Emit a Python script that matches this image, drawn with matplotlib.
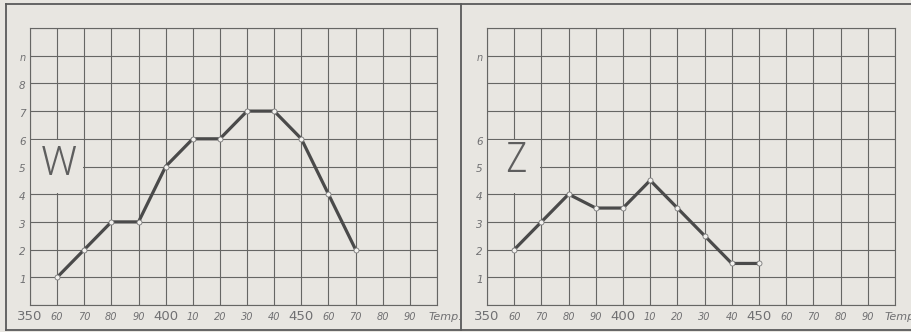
import matplotlib
matplotlib.use("Agg")
import matplotlib.pyplot as plt
from matplotlib.patches import Rectangle
from matplotlib.lines import Line2D

# ---- data -------------------------------------------------------------
temp_w = [360, 370, 380, 390, 400, 410, 420, 430, 440, 450, 460, 470]
n_w = [1, 2, 3, 3, 5, 6, 6, 7, 7, 6, 4, 2]

temp_z = [360, 370, 380, 390, 400, 410, 420, 430, 440, 450]
n_z = [2, 3, 4, 3.5, 3.5, 4.5, 3.5, 2.5, 1.5, 1.5]

x_ticks = [350, 360, 370, 380, 390, 400, 410, 420, 430, 440,
           450, 460, 470, 480, 490]
x_labels = ["350", "60", "70", "80", "90", "400", "10", "20", "30", "40",
            "450", "60", "70", "80", "90"]
x_major = ["350", "400", "450"]

y_ticks_w = [1, 2, 3, 4, 5, 6, 7, 8, 9]
y_labels_w = ["1", "2", "3", "4", "5", "6", "7", "8", "n"]
y_ticks_z = [1, 2, 3, 4, 5, 6, 9]
y_labels_z = ["1", "2", "3", "4", "5", "6", "n"]

# ---- style ------------------------------------------------------------
W, H = 911, 332
BG = "#e8e6e1"
GRID = "#666664"
INK = "#4a4a4a"
LABEL = "#707072"

fig = plt.figure(figsize=(W / 100, H / 100), dpi=100, facecolor=BG)


def px_axes(x0, x1, y_top, y_bot):
    return fig.add_axes([x0 / W, 1 - y_bot / H, (x1 - x0) / W, (y_bot - y_top) / H])


def draw_panel(ax, xs, ys, yt, yl, letter_kw, temp_x):
    ax.set_facecolor(BG)
    ax.set_xlim(350, 500)
    ax.set_ylim(0, 10)
    ax.set_xticks(range(350, 501, 10))
    ax.set_yticks(range(0, 11))
    ax.tick_params(length=0, labelbottom=False, labelleft=False)
    ax.set_axisbelow(True)
    ax.grid(True, color=GRID, lw=0.8)
    for s in ax.spines.values():
        s.set_color(GRID)
        s.set_linewidth(0.8)

    # blank field holding the sample letter
    ax.add_patch(Rectangle((350.5, 4.04), 19.0, 1.92, facecolor=BG,
                           edgecolor="none", zorder=1))
    ax.text(**letter_kw, color="#5e5e5e", zorder=2, ha="center",
            va="center")

    ax.plot(xs, ys, color=INK, lw=2.3, zorder=3, solid_joinstyle="round")
    ax.plot(xs, ys, ls="none", marker="o", ms=3.6, mfc="#f2f1ee",
            mec="#7a7a7a", mew=0.6, zorder=4)

    for t, lab in zip(x_ticks, x_labels):
        big = lab in x_major
        ax.text(t, -0.42, lab, ha="center", va="center", color=LABEL,
                fontsize=9.5 if big else 7, style="normal" if big else "italic",
                clip_on=False)
    ax.text(temp_x, -0.42, "Temp.", ha="left", va="center", color=LABEL,
            fontsize=8, style="italic", clip_on=False)

    for t, lab in zip(yt, yl):
        ax.text(348.4, t - 0.1, lab, ha="right", va="center", color=LABEL,
                fontsize=7.5 if lab != "n" else 7, style="italic",
                clip_on=False)


ax1 = px_axes(30, 437, 28, 305)
draw_panel(ax1, temp_w, n_w, y_ticks_w, y_labels_w,
           dict(x=360.8, y=5.1, s="W", fontsize=29,
                family=["Roboto", "DejaVu Sans"], fontweight=300), 496.8)

ax2 = px_axes(487, 895, 28, 305)
draw_panel(ax2, temp_z, n_z, y_ticks_z, y_labels_z,
           dict(x=360.8, y=5.2, s="Z", fontsize=30,
                family=["Roboto Condensed", "Roboto", "DejaVu Sans"],
                fontweight=300), 496.0)

# outer frame and divider
def frame_line(xa, ya, xb, yb, lw=1.3):
    fig.add_artist(Line2D([xa / W, xb / W], [1 - ya / H, 1 - yb / H],
                          color="#5a5a5a", lw=lw, transform=fig.transFigure))

frame_line(6, 4, 911, 4)
frame_line(6, 4, 6, 330)
frame_line(461, 4, 461, 330)
frame_line(6, 330, 911, 330)

fig.savefig("out.png", dpi=100, facecolor=BG)
